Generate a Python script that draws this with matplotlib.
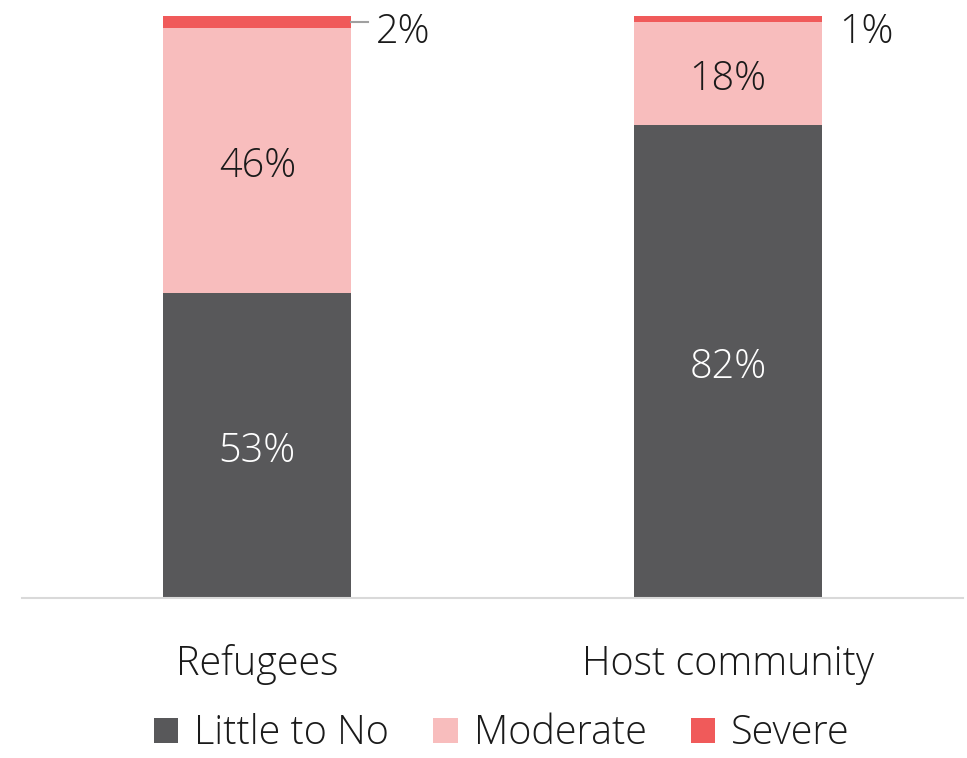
import matplotlib
matplotlib.use("Agg")
import matplotlib.pyplot as plt
from matplotlib import transforms
import numpy as np

categories = ["Refugees", "Host community"]
series_names = ["Little to No", "Moderate", "Severe"]
little = [53, 82]
moderate = [46, 18]
severe = [2, 1]
colors = ["#58585A", "#F8BDBD", "#F05A5A"]

plt.rcParams['font.family'] = ['Open Sans', 'DejaVu Sans']
FW = 'light'

fig = plt.figure(figsize=(9.67, 7.58), dpi=100)
ax = fig.add_axes([22/967, 160/758, 941/967, 582/758])
x = np.arange(len(categories))
w = 0.4
b1 = ax.bar(x, little, w, color=colors[0], label=series_names[0])
b2 = ax.bar(x, moderate, w, bottom=little, color=colors[1], label=series_names[1])
bot3 = np.array(little) + np.array(moderate)
b3 = ax.bar(x, severe, w, bottom=bot3, color=colors[2], label=series_names[2])

fs = 28.5
down = transforms.offset_copy(ax.transData, fig=fig, x=0, y=-6, units='dots')
for i in range(len(categories)):
    ax.text(x[i], little[i]/2, f"{little[i]}%", ha='center', va='center', color='white',
            fontsize=fs, fontweight=FW, transform=down)
    ax.text(x[i], little[i] + moderate[i]/2, f"{moderate[i]}%", ha='center', va='center', color='#1a1a1a',
            fontsize=fs, fontweight=FW, transform=down)
    ytop = bot3[i] + severe[i]/2
    if i == 0:
        ax.plot([x[i]+w/2, x[i]+w/2+0.035], [ytop, ytop], color='#A0A0A0', lw=1.5, clip_on=False)
        ax.text(x[i]+w/2+0.053, ytop - 0.9, f"{severe[i]}%", ha='left', va='center', color='#1a1a1a',
                fontsize=fs, fontweight=FW, transform=down)
    else:
        ax.text(x[i]+w/2+0.037, ytop - 1.3, f"{severe[i]}%", ha='left', va='center', color='#1a1a1a',
                fontsize=fs, fontweight=FW, transform=down)

ax.set_xlim(-0.5, 1.5)
ax.set_ylim(0, 101)
ax.set_yticks([])
ax.set_xticks(x)
ax.set_xticklabels(categories, fontsize=fs, fontweight=FW, color='#1a1a1a')
ax.tick_params(axis='x', length=0, pad=33)
for s in ['top', 'right', 'left']:
    ax.spines[s].set_visible(False)
ax.spines['bottom'].set_color('#D9D9D9')
ax.spines['bottom'].set_linewidth(1.5)

leg = fig.legend(handles=[b1, b2, b3], labels=series_names, loc='center',
                 bbox_to_anchor=(0.519, (758-734)/758), ncol=3,
                 frameon=False, prop={'size': fs, 'weight': FW}, handlelength=0.62, handleheight=0.62,
                 handletextpad=0.4, columnspacing=1.12, borderpad=0.1)
for t in leg.get_texts():
    t.set_color('#1a1a1a')

fig.savefig("out.png", dpi=100)
